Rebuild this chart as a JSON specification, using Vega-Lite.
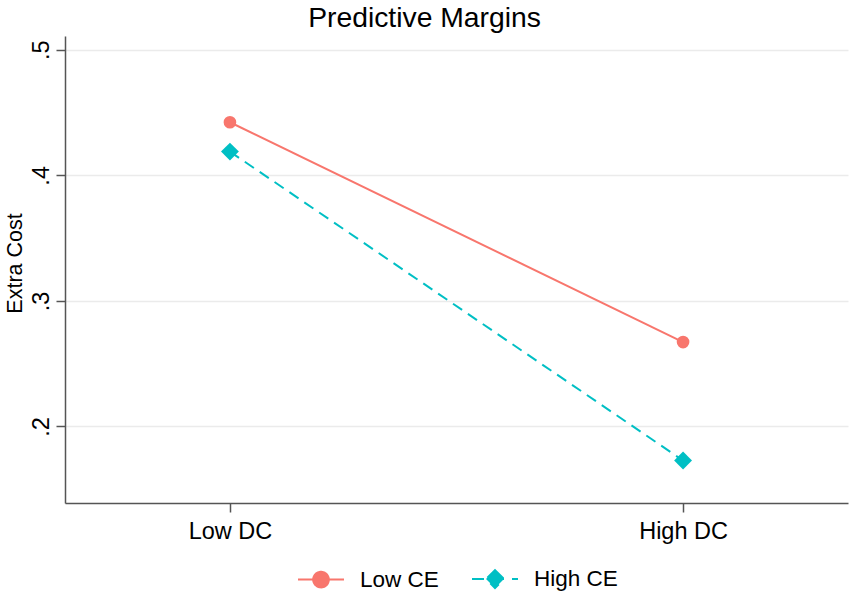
{
  "$schema": "https://vega.github.io/schema/vega-lite/v6.json",
  "width": 783,
  "height": 467,
  "autosize": {"type": "none"},
  "padding": {"left": 65, "top": 36, "right": 1, "bottom": 89},
  "background": "white",
  "title": {
    "text": "Predictive Margins",
    "anchor": "middle",
    "frame": "group",
    "dx": -32,
    "dy": 28,
    "baseline": "alphabetic",
    "offset": 9,
    "fontSize": 28.3,
    "font": "Liberation Sans",
    "fontWeight": "normal",
    "color": "#000000"
  },
  "config": {
    "view": {"stroke": null},
    "font": "Liberation Sans",
    "axis": {
      "labelFont": "Liberation Sans",
      "titleFont": "Liberation Sans",
      "labelColor": "#000000",
      "titleColor": "#000000",
      "domainColor": "#555555",
      "tickColor": "#555555",
      "domainWidth": 1.5,
      "tickWidth": 1.5,
      "gridColor": "#ebebeb",
      "gridWidth": 1.5
    }
  },
  "data": {
    "values": [
      {"dc": "Low DC", "series": "Low CE", "margin": 0.4423},
      {"dc": "High DC", "series": "Low CE", "margin": 0.2672},
      {"dc": "Low DC", "series": "High CE", "margin": 0.4189},
      {"dc": "High DC", "series": "High CE", "margin": 0.1728}
    ]
  },
  "encoding": {
    "x": {
      "field": "dc",
      "type": "nominal",
      "scale": {"type": "point", "domain": ["Low DC", "High DC"], "padding": 0.364},
      "axis": {
        "title": null,
        "labelAngle": 0,
        "labelFontSize": 23.5,
        "tickSize": 9,
        "labelPadding": 7,
        "grid": false
      }
    },
    "y": {
      "field": "margin",
      "type": "quantitative",
      "scale": {"domain": [0.139, 0.511], "nice": false, "zero": false},
      "axis": {
        "title": "Extra Cost",
        "titleFontSize": 21.5,
        "titleFontWeight": "normal",
        "titleAngle": -90,
        "titleX": -50,
        "titleY": 227,
        "titleAlign": "center",
        "titleBaseline": "middle",
        "values": [0.2, 0.3, 0.4, 0.5],
        "labelExpr": "substring(format(datum.value, '.1f'), 1)",
        "labelAngle": -90,
        "labelAlign": "center",
        "labelBaseline": "alphabetic",
        "labelFontSize": 23.5,
        "labelPadding": 8,
        "tickSize": 9,
        "grid": true
      }
    },
    "color": {
      "field": "series",
      "type": "nominal",
      "scale": {"domain": ["Low CE", "High CE"], "range": ["#F8766D", "#00BFC4"]},
      "legend": {
        "title": null,
        "orient": "none",
        "direction": "horizontal",
        "legendX": 232,
        "legendY": 519,
        "padding": 0,
        "symbolSize": 2116,
        "symbolStrokeWidth": 2,
        "labelFontSize": 22.5,
        "labelFont": "Liberation Sans",
        "labelColor": "#000000",
        "labelOffset": 15,
        "columnPadding": 29,
        "encode": {
          "symbols": {
            "update": {
              "shape": {"signal": "datum.value === 'Low CE' ? 'M-1,0H1M0.34,0A0.34,0.34 0 1,1 -0.34,0A0.34,0.34 0 1,1 0.34,0Z' : 'M-1,0H1M0,-0.39L0.39,0L0,0.39L-0.39,0Z'"},
              "strokeDash": {"signal": "datum.value === 'High CE' ? [12, 8] : [1, 0]"},
              "fill": {"signal": "scale('color', datum.value)"},
              "stroke": {"signal": "scale('color', datum.value)"},
              "strokeWidth": {"value": 2},
              "size": {"value": 2116},
              "opacity": {"value": 1},
              "fillOpacity": {"value": 1},
              "strokeOpacity": {"value": 1}
            }
          }
        }
      }
    }
  },
  "layer": [
    {
      "transform": [{"filter": "datum.series === 'Low CE'"}],
      "mark": {"type": "line", "strokeWidth": 2}
    },
    {
      "transform": [{"filter": "datum.series === 'High CE'"}],
      "mark": {"type": "line", "strokeWidth": 2, "strokeDash": [11, 7]}
    },
    {
      "transform": [{"filter": "datum.series === 'Low CE'"}],
      "mark": {"type": "point", "filled": true, "opacity": 1, "shape": "circle", "size": 160}
    },
    {
      "transform": [{"filter": "datum.series === 'High CE'"}],
      "mark": {"type": "point", "filled": true, "opacity": 1, "shape": "diamond", "size": 320}
    }
  ]
}
